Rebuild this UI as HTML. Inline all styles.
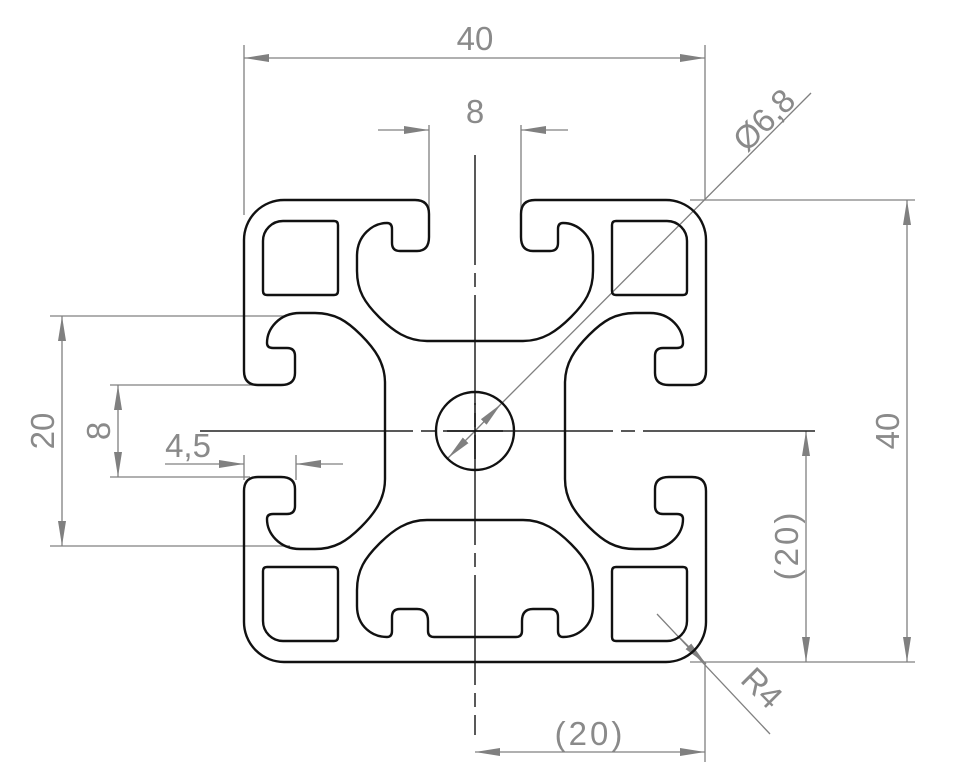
<!DOCTYPE html>
<html><head><meta charset="utf-8"><style>html,body{margin:0;padding:0;background:#fff}svg{display:block}</style></head>
<body>
<svg width="960" height="778" viewBox="0 0 960 778" xmlns="http://www.w3.org/2000/svg">
<defs>
<marker id="ar" viewBox="0 0 25 8" refX="25" refY="4" markerWidth="25" markerHeight="8" markerUnits="userSpaceOnUse" orient="auto-start-reverse">
<path d="M0,0 L25,4 L0,8 Z" fill="#808080"/>
</marker>
</defs>
<g font-family="Liberation Sans, sans-serif" font-size="33" fill="#8a8a8a" stroke="none">
<text x="475" y="50" text-anchor="middle">40</text>
<text x="475" y="123" text-anchor="middle">8</text>
<text x="0" y="0" transform="translate(772,128) rotate(-45)" text-anchor="middle">Ø6,8</text>
<text x="0" y="0" transform="translate(899,431) rotate(-90)" text-anchor="middle">40</text>
<text x="0" y="0" transform="translate(798,545) rotate(-90)" text-anchor="middle" letter-spacing="3">(20)</text>
<text x="590" y="745" text-anchor="middle" letter-spacing="3">(20)</text>
<text x="0" y="0" transform="translate(754,696) rotate(45)" text-anchor="middle">R4</text>
<text x="0" y="0" transform="translate(54,431) rotate(-90)" text-anchor="middle">20</text>
<text x="0" y="0" transform="translate(110,431) rotate(-90)" text-anchor="middle">8</text>
<text x="188" y="457" text-anchor="middle">4,5</text>
</g>
<g stroke="#808080" stroke-width="1.3" fill="none">
<line x1="244" y1="45" x2="244" y2="215"/><line x1="705" y1="45" x2="705" y2="200"/>
<line x1="244" y1="58" x2="705" y2="58" marker-start="url(#ar)" marker-end="url(#ar)"/>
<line x1="429" y1="125" x2="429" y2="225"/><line x1="521" y1="125" x2="521" y2="225"/>
<line x1="378" y1="130" x2="429" y2="130" marker-end="url(#ar)"/>
<line x1="568" y1="130" x2="521" y2="130" marker-end="url(#ar)"/>
<line x1="811" y1="93" x2="501" y2="404" />
<line x1="475" y1="431" x2="501" y2="404" marker-end="url(#ar)"/>
<line x1="475" y1="431" x2="448" y2="458" marker-end="url(#ar)"/>
<line x1="690" y1="200" x2="915" y2="200"/><line x1="690" y1="662" x2="915" y2="662"/>
<line x1="907" y1="200" x2="907" y2="662" marker-start="url(#ar)" marker-end="url(#ar)"/>
<line x1="806" y1="431" x2="806" y2="662" marker-start="url(#ar)" marker-end="url(#ar)"/>
<line x1="705" y1="662" x2="705" y2="762"/>
<line x1="475" y1="752" x2="705" y2="752" marker-start="url(#ar)" marker-end="url(#ar)"/>
<line x1="657" y1="614" x2="770" y2="734"/>
<line x1="680" y1="638" x2="706" y2="664" marker-end="url(#ar)"/>
<line x1="50" y1="316" x2="285" y2="316"/><line x1="50" y1="546" x2="290" y2="546"/>
<line x1="62" y1="316" x2="62" y2="546" marker-start="url(#ar)" marker-end="url(#ar)"/>
<line x1="110" y1="385" x2="265" y2="385"/><line x1="110" y1="477" x2="250" y2="477"/>
<line x1="118" y1="385" x2="118" y2="477" marker-start="url(#ar)" marker-end="url(#ar)"/>
<line x1="244" y1="455" x2="244" y2="480"/><line x1="296" y1="455" x2="296" y2="480"/>
<line x1="165" y1="464" x2="244" y2="464" marker-end="url(#ar)"/>
<line x1="343" y1="464" x2="296" y2="464" marker-end="url(#ar)"/>
</g>
<g stroke="#222" stroke-width="1.5" fill="none">
<line x1="475" y1="155" x2="475" y2="735" stroke-dasharray="110 8 14 8"/>
<line x1="200" y1="431" x2="815" y2="431" stroke-dasharray="213 8 14 8 170 8 14 8 200"/>
</g>
<g transform="translate(475,431)" stroke="#111" stroke-width="2.4" fill="none" stroke-linejoin="round">
<defs>
<path id="q" d="M0,-90 L-48,-90 C-68,-90 -82,-100 -96,-114 C-110,-128 -118,-140 -118,-160 L-118,-175 C-118,-196 -102,-208 -88,-208 Q-83,-208 -83,-202 L-83,-188 Q-83,-180 -75,-180 L-58,-180 Q-46,-180 -46,-194 L-46,-217 Q-46,-231 -60,-231 L-191,-231 A40,40 0 0 0 -231,-191 L-231,-60 Q-231,-46 -217,-46 L-194,-46 Q-180,-46 -180,-58 L-180,-75 Q-180,-83 -188,-83 L-202,-83 Q-208,-83 -208,-88 C-208,-102 -196,-118 -175,-118 L-160,-118 C-140,-118 -128,-110 -114,-96 C-100,-82 -90,-68 -90,-48 L-90,0"/>
<path id="h" d="M-231,-191 L-231,-60 Q-231,-46 -217,-46 L-194,-46 Q-180,-46 -180,-58 L-180,-75 Q-180,-83 -188,-83 L-202,-83 Q-208,-83 -208,-88 C-208,-102 -196,-118 -175,-118 L-160,-118 C-140,-118 -128,-110 -114,-96 C-100,-82 -90,-68 -90,-48 L-90,0"/>
<path id="c" d="M0,89 L-48,89 C-68,89 -82,99 -96,113 C-110,127 -118,139 -118,159 L-118,175 C-118,196 -102,206 -88,206 Q-83,206 -83,200 L-83,186 Q-83,178 -75,178 L-58,178 Q-47,178 -47,190 L-47,200 Q-47,206 -41,206 L0,206"/>
<path id="s" d="M-192,-210 L-141,-210 Q-137,-210 -137,-206 L-137,-140 Q-137,-136 -141,-136 L-208,-136 Q-212,-136 -212,-140 L-212,-190 A20,20 0 0 1 -192,-210 Z"/>
</defs>
<use href="#q"/><use href="#q" transform="scale(-1,1)"/>
<use href="#h" transform="scale(1,-1)"/><use href="#h" transform="scale(-1,-1)"/>
<path d="M-231,191 A40,40 0 0 0 -191,231 L191,231 A40,40 0 0 0 231,191"/>
<use href="#c"/><use href="#c" transform="scale(-1,1)"/>
<use href="#s"/><use href="#s" transform="scale(-1,1)"/><use href="#s" transform="scale(1,-1)"/><use href="#s" transform="scale(-1,-1)"/>
<circle cx="0" cy="0" r="39"/>
<g stroke-width="1.5"><line x1="-28" y1="0" x2="28" y2="0"/><line x1="0" y1="-28" x2="0" y2="28"/></g>
</g>
</svg>
</body></html>
